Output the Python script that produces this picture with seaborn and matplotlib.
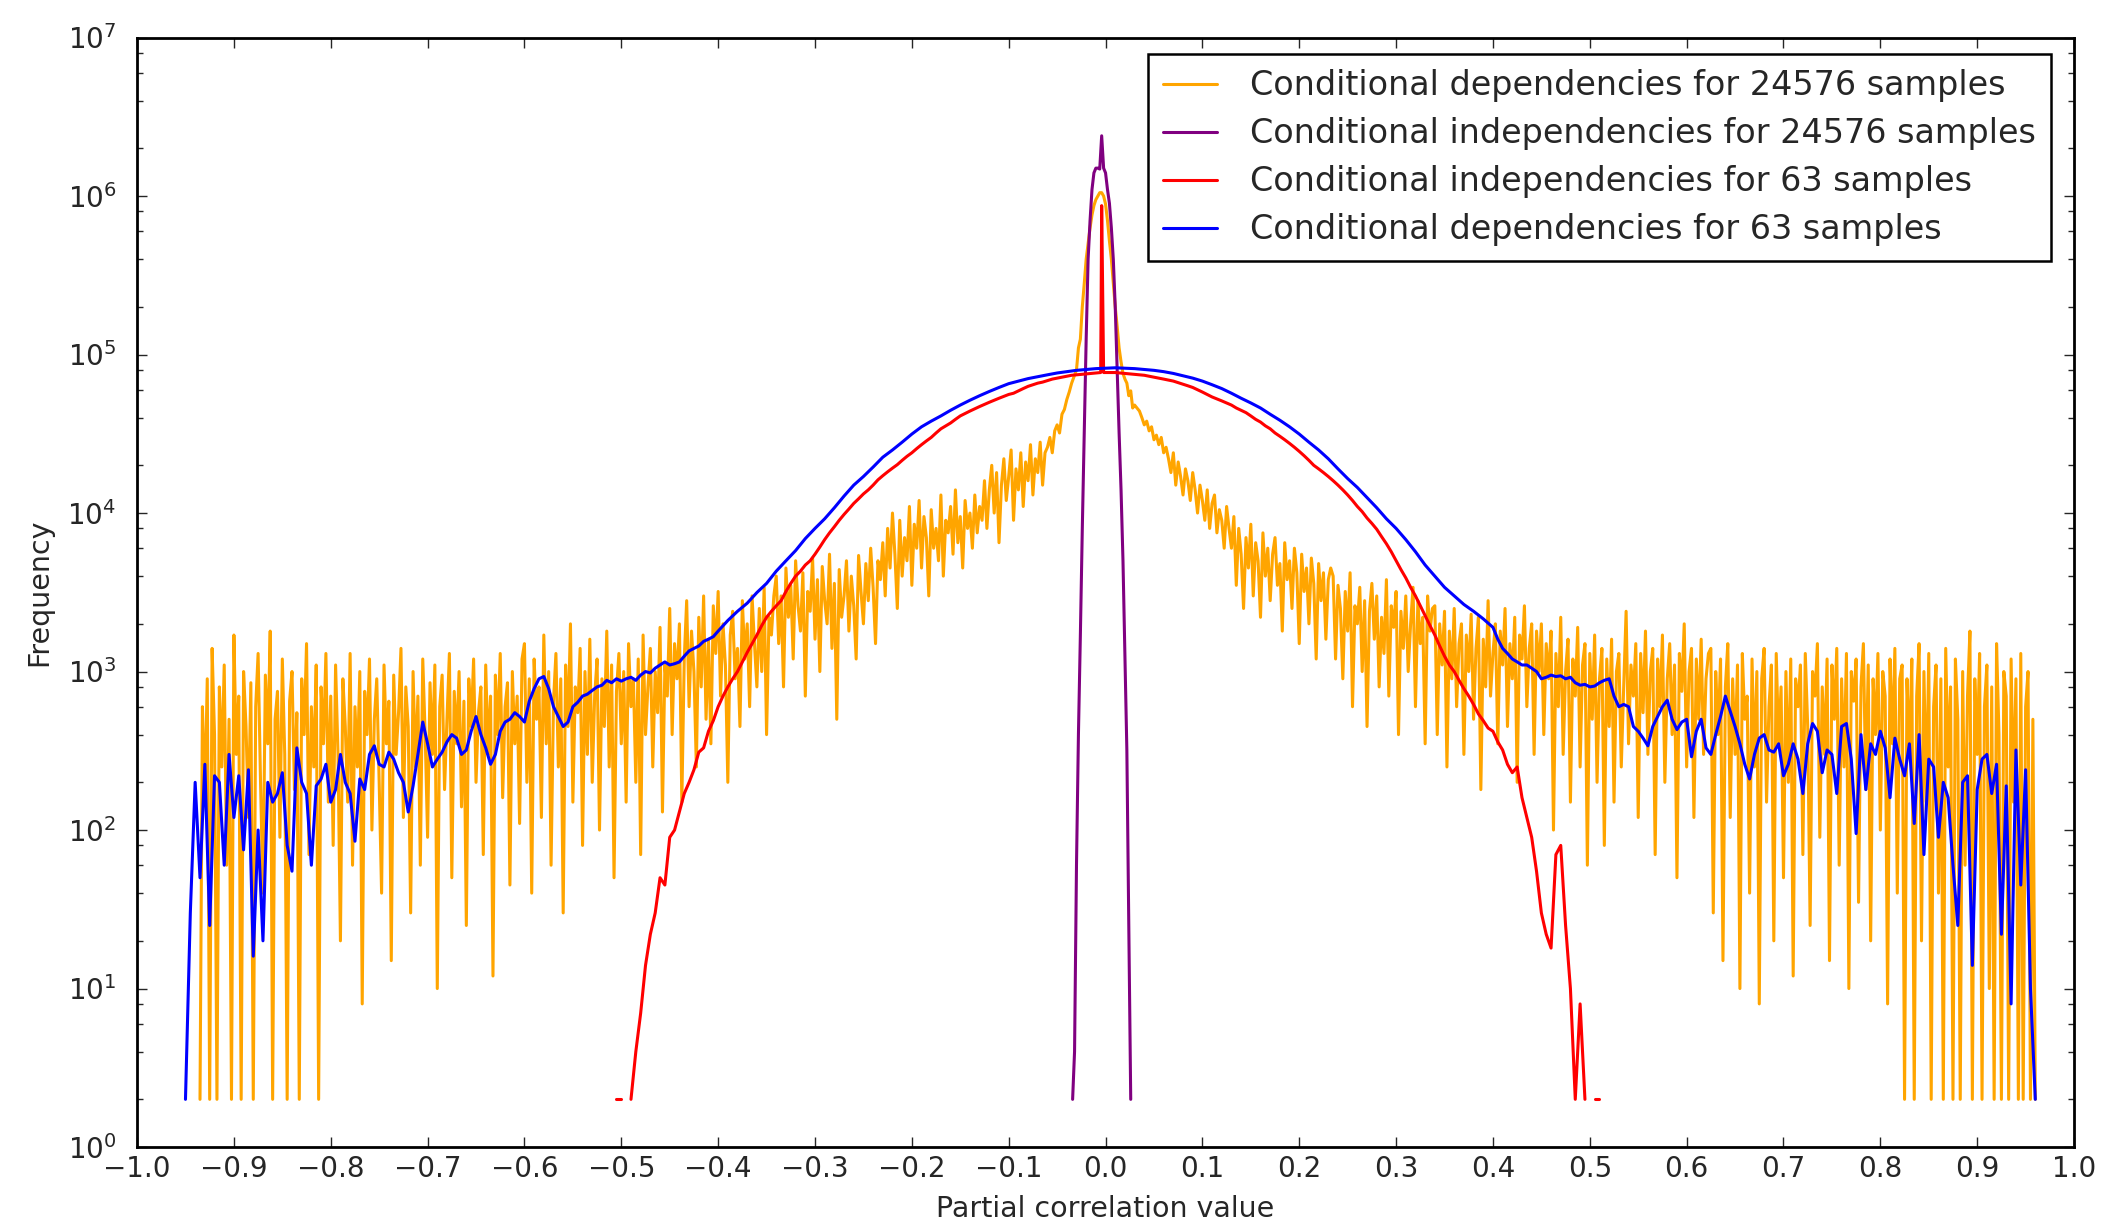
import numpy as np
import pandas as pd
import matplotlib
matplotlib.use("Agg")
import matplotlib.pyplot as plt
import seaborn as sns
from matplotlib.lines import Line2D
from matplotlib.ticker import LogLocator, NullFormatter

nan = np.nan

# Histogram counts. Each piece: first bin centre, bin width, counts.
# Conditional dependencies, 24576 samples (orange)
orange_left_start, orange_left_step = -0.935, 0.0025
orange_left = [
    # -0.935 .. -0.8025
    2, 600, 150, 900, 2, 1400, 400, 2, 800, 250,
    1100, 60, 500, 2, 1700, 300, 700, 2, 1000, 450,
    120, 850, 2, 600, 1300, 200, 40, 950, 350, 1800,
    2, 500, 750, 90, 1200, 300, 2, 650, 1000, 180,
    550, 2, 900, 400, 1500, 70, 600, 250, 1100, 2,
    800, 350, 1300, 150,
    # -0.800 .. -0.6025
    700, 80, 1100, 300, 20, 900, 450, 150, 1300, 60,
    600, 250, 1000, 8, 750, 400, 1200, 100, 500, 900,
    200, 40, 1100, 350, 650, 15, 950, 300, 550, 1400,
    120, 800, 450, 30, 1000, 250, 700, 60, 1200, 400,
    90, 850, 300, 1100, 10, 600, 950, 180, 500, 1300,
    50, 750, 350, 1000, 140, 650, 25, 900, 450, 1200,
    200, 550, 800, 70, 1100, 300, 700, 12, 950, 400,
    1300, 160, 600, 850, 45, 1000, 350, 700, 110, 1200,
    # -0.600 .. -0.4525
    1500, 200, 900, 40, 1200, 500, 800, 120, 1700, 350,
    1000, 60, 650, 1300, 250, 900, 30, 1100, 450, 2000,
    150, 800, 550, 1400, 80, 1000, 300, 1600, 200, 700,
    1200, 100, 900, 450, 1800, 250, 1100, 50, 750, 1300,
    350, 1000, 150, 1500, 600, 900, 200, 1200, 70, 1700,
    400, 800, 1400, 250, 1000, 550, 1900, 130, 1100, 700,
    # -0.450 .. -0.3425
    2500, 400, 1500, 900, 2000, 150, 1200, 2800, 600, 1800,
    1000, 250, 2200, 800, 3000, 500, 1600, 350, 2600, 1300,
    3200, 700, 2000, 1100, 200, 1700, 2400, 900, 1400, 450,
    2800, 1200, 2000, 600, 3000, 1500, 800, 2500, 1000, 3400,
    400, 2200, 1700, 3000,
    # -0.340 .. -0.2325
    4000, 1500, 3000, 800, 4500, 2200, 3500, 1200, 5000, 2600,
    1800, 4200, 700, 3200, 2400, 5200, 1600, 3800, 1000, 4600,
    2800, 2000, 5500, 1400, 3600, 500, 4400, 2200, 3000, 5000,
    1800, 4000, 2600, 1200, 5400, 3200, 2000, 4800, 2800, 6000,
    3400, 1500, 5000, 3800,
    # -0.230 .. -0.1275
    6500, 3000, 8000, 4500, 10000, 5500, 2500, 9000, 4000, 7000,
    5000, 11000, 3500, 8500, 6000, 12000, 4500, 9500, 7000, 3000,
    10500, 6000, 8000, 5000, 13000, 4000, 9000, 7500, 11000, 5500,
    14000, 6500, 9500, 4500, 12000, 8000, 10000, 6000, 13000, 7500,
    11000, 9000,
    # -0.125 .. -0.0625
    16000, 8000, 14000, 20000, 10000, 18000, 6500, 15000, 22000, 12000,
    17000, 25000, 9000, 19000, 14000, 24000, 11000, 21000, 16000, 27000,
    13000, 22000, 18000, 28000, 15000, 24000,
    # -0.060 .. -0.035
    26000, 30000, 24000, 33000, 36000, 32000, 42000, 45000, 52000, 58000, 66000,
]
orange_mid_start, orange_mid_step = -0.030, 0.002
orange_mid = [
    80000, 110000, 125000, 200000, 280000, 400000, 500000, 630000, 760000, 870000, 950000,
    1000000, 1050000, 1050000, 1000000, 890000, 700000, 520000, 400000, 280000, 200000,
    150000, 110000, 90000, 76000, 70000, 66000, 55000, 59000, 46000, 48000,
]
orange_right_start, orange_right_step = 0.035, 0.0025
orange_right = [
    # 0.035 .. 0.0625
    44000, 40000, 36000, 38000, 33000, 35000, 29000, 31000, 27000, 30000, 24000, 26000,
    # 0.065 .. 0.1275
    22000, 18000, 24000, 15000, 21000, 17000, 13000, 19000, 16000, 12000,
    18000, 14000, 10000, 15000, 12000, 9000, 14000, 8000, 11500, 13000,
    7500, 10500, 9000, 6000, 11000, 8000,
    # 0.130 .. 0.2325
    6000, 9500, 3500, 8000, 5500, 2500, 7000, 4500, 8500, 3000,
    6500, 5000, 2200, 7500, 4000, 6000, 2800, 5500, 7000, 3500,
    4800, 1800, 6500, 3800, 5000, 2500, 6000, 4200, 1500, 5500,
    3200, 4500, 2000, 5200, 3600, 1200, 4800, 2800, 4200, 1600,
    3800, 4500,
    # 0.235 .. 0.3375
    4000, 1200, 3500, 2500, 900, 3200, 1800, 4200, 600, 2600,
    2000, 3400, 1000, 2800, 450, 2400, 3600, 1600, 3000, 800,
    2200, 1300, 3800, 700, 2600, 1900, 3200, 400, 2400, 1400,
    3000, 1000, 2000, 3400, 600, 2800, 1500, 2200, 350, 3000,
    1800, 2500,
    # 0.340 .. 0.4475
    2600, 400, 2000, 1100, 2400, 250, 1800, 900, 2500, 600,
    1500, 2000, 300, 1700, 1000, 2300, 500, 1400, 2200, 180,
    1600, 800, 2800, 700, 1300, 2000, 350, 1800, 1100, 2500,
    450, 1500, 900, 2200, 200, 1700, 1200, 2600, 600, 1400,
    2000, 300, 1800, 1000,
    # 0.450 .. 0.6225
    2000, 400, 1500, 900, 1800, 100, 1300, 600, 2200, 300,
    1000, 1600, 150, 1200, 700, 1900, 250, 1100, 1500, 60,
    1300, 500, 1700, 200, 900, 1400, 80, 1200, 450, 1600,
    150, 1000, 1300, 250, 800, 2400, 350, 1100, 700, 1500,
    120, 1300, 550, 1800, 300, 1000, 1400, 70, 1200, 600,
    1700, 200, 900, 1500, 400, 1100, 50, 1300, 750, 2000,
    250, 1000, 1400, 120, 1200, 500, 1600, 300, 900, 1300,
    # 0.625 .. 0.8225
    1400, 30, 1000, 400, 1200, 15, 800, 1500, 120, 900,
    300, 1100, 10, 1300, 500, 700, 40, 1200, 250, 1000,
    8, 900, 1400, 150, 600, 1100, 20, 1300, 350, 800,
    50, 1000, 200, 1200, 12, 900, 600, 1100, 70, 1300,
    450, 25, 1000, 700, 1500, 90, 800, 300, 1200, 15,
    1100, 500, 1400, 60, 900, 250, 1300, 10, 1000, 650,
    1200, 35, 800, 1500, 180, 1100, 20, 900, 400, 1300,
    100, 1000, 700, 8, 1200, 350, 1400, 40, 900, 1100,
    # 0.825 .. 0.960
    2, 900, 300, 1200, 2, 700, 1500, 20, 1000, 150,
    1300, 2, 600, 1100, 40, 900, 2, 1400, 250, 800,
    2, 1200, 500, 2, 1000, 60, 700, 1800, 2, 900,
    300, 1300, 2, 600, 1100, 10, 800, 2, 1500, 400,
    2, 1000, 700, 2, 1200, 150, 900, 2, 1300, 2,
    600, 1000, 2, 500, 2,
]

# Conditional independencies, 24576 samples (purple)
purple_start, purple_step = -0.034, 0.002
purple = [
    2, 4, 60, 400, 1700, 8000, 32000, 126000, 400000, 700000, 1100000, 1400000, 1500000,
    1500000, 1480000, 2400000, 1500000, 1400000, 1100000, 900000, 630000, 400000, 200000,
    80000, 32000, 14000, 5000, 1260, 320, 25, 2,
]

# Conditional independencies, 63 samples (red); nan = empty bin
red_left_start, red_left_step = -0.515, 0.005
red_left = [
    2, nan, 2, 2, nan, 2, 4, 7, 14, 22,
    30, 50, 45, 90, 100, 130, 170, 200, 240, 310,
    330, 420, 490, 600, 700, 800, 900, 1000, 1150, 1320,
    1500, 1700, 1950, 2200, 2400, 2600, 2800, 3200, 3600, 4000,
    4300, 4700, 5000, 5500, 6100, 6800, 7500, 8200, 9000, 9800,
    10600, 11500, 12300, 13200, 14000, 15000, 16200, 17200, 18200, 19200,
    20200, 21500, 22800, 24000, 25500, 27000, 28500, 30000, 32000, 34000,
    35500, 37000, 39000, 41000, 42500, 44000, 45500, 47000, 48500, 50000,
    51500, 53000, 54500, 56000, 57000, 59000, 61000, 63000, 64500, 66000,
    67000, 68500, 70000, 71000, 72000, 73000, 74000, 74500, 75000, 75500,
    76000, 76500, 77000,
]
red_mid_start, red_mid_step = -0.004, 0.002
red_mid = [870000, 77000, 77000, 77000, 77000]
red_right_start, red_right_step = 0.005, 0.005
red_right = [
    77000, 77000, 76500, 76000, 75500, 75000, 74500, 74000, 73000, 72000,
    71000, 70000, 69000, 68000, 66500, 65000, 63500, 62000, 60000, 58000,
    56000, 54000, 52500, 51000, 49500, 48000, 46000, 44500, 43000, 41000,
    39000, 37500, 35500, 34000, 32000, 30500, 29000, 27500, 26000, 24500,
    23000, 21500, 20000, 19000, 18000, 17000, 16000, 15000, 14000, 13000,
    12000, 11000, 10200, 9300, 8600, 7900, 7100, 6400, 5700, 5000,
    4400, 3900, 3400, 3000, 2600, 2250, 1950, 1700, 1450, 1250,
    1100, 1000, 880, 780, 700, 620, 540, 490, 440, 420,
    360, 320, 260, 230, 250, 160, 120, 90, 55, 30,
    22, 18, 70, 80, 25, 10, 2, 8, 2, nan,
    2, 2,
]

# Conditional dependencies, 63 samples (blue)
blue_left_start, blue_left_step = -0.950, 0.005
blue_left = [
    2, 30, 200, 50, 260, 25, 220, 200, 60, 300,
    120, 220, 75, 240, 16, 100, 20, 200, 150, 170,
    230, 80, 55, 330, 200, 170, 60, 190, 210, 260,
    150, 180, 300, 200, 170, 85, 210, 180, 300, 340,
    260, 250, 310, 280, 230, 200, 130, 190, 300, 480,
    350, 250, 280, 310, 360, 400, 380, 300, 320, 420,
    520, 400, 330, 260, 300, 420, 480, 500, 550, 520,
    480, 650, 780, 900, 930, 780, 600, 520, 450, 480,
    600, 640, 700, 720, 760, 800, 820, 880, 850, 900,
    870, 900, 920, 880, 950, 1000, 980, 1050, 1100, 1150,
    1100, 1120, 1150, 1250, 1350, 1400, 1450, 1550, 1600, 1660,
    1800,
]
blue_mid_start, blue_mid_step = -0.39, 0.01
blue_mid = [
    2100, 2400, 2700, 3150, 3600, 4300, 5000, 5800, 6900, 8000,
    9200, 10800, 12800, 15000, 17000, 19500, 22500, 25000, 28000, 31500,
    35000, 38000, 41000, 44500, 48000, 51500, 55000, 58500, 62000, 65500,
    68000, 70500, 72500, 74500, 76500, 78000, 79500, 80500, 81500, 82000,
    82500, 82000, 81500, 80500, 79500, 78000, 76000, 73500, 71000, 68000,
    64500, 61000, 57000, 53000, 49500, 46000, 42000, 38500, 35000, 31500,
    28000, 25000, 22000, 19000, 16500, 14500, 12500, 10800, 9200, 8000,
    6800, 5700, 4700, 4000, 3400, 3000, 2650, 2400, 2150,
]
blue_right_start, blue_right_step = 0.400, 0.005
blue_right = [
    1900, 1600, 1400, 1300, 1200, 1150, 1100, 1100, 1050, 1000,
    900, 920, 950, 930, 940, 900, 920, 850, 820, 830,
    800, 810, 850, 880, 900, 700, 600, 620, 600, 450,
    420, 380, 340, 450, 520, 600, 660, 500, 430, 480,
    500, 290, 420, 500, 330, 300, 400, 520, 700, 560,
    450, 350, 260, 210, 300, 380, 400, 320, 310, 350,
    220, 260, 350, 280, 170, 350, 470, 420, 230, 320,
    300, 170, 450, 470, 280, 95, 400, 180, 350, 300,
    420, 330, 160, 380, 280, 220, 350, 110, 400, 70,
    280, 250, 90, 200, 160, 60, 25, 200, 220, 14,
    180, 280, 300, 170, 260, 22, 190, 8, 320, 45,
    240, 10, 2,
]

labels = [
    "Conditional dependencies for 24576 samples",
    "Conditional independencies for 24576 samples",
    "Conditional independencies for 63 samples",
    "Conditional dependencies for 63 samples",
]
colors = ["orange", "purple", "red", "blue"]
xtick_values = [-1.0, -0.9, -0.8, -0.7, -0.6, -0.5, -0.4, -0.3, -0.2, -0.1, 0.0,
                0.1, 0.2, 0.3, 0.4, 0.5, 0.6, 0.7, 0.8, 0.9, 1.0]


def piece(start, step, counts):
    counts = np.asarray(counts, dtype=float)
    return pd.DataFrame({"x": start + step * np.arange(len(counts)), "count": counts})


series = [
    [piece(orange_left_start, orange_left_step, orange_left),
     piece(orange_mid_start, orange_mid_step, orange_mid),
     piece(orange_right_start, orange_right_step, orange_right)],
    [piece(purple_start, purple_step, purple)],
    [piece(red_left_start, red_left_step, red_left),
     piece(red_mid_start, red_mid_step, red_mid),
     piece(red_right_start, red_right_step, red_right)],
    [piece(blue_left_start, blue_left_step, blue_left),
     piece(blue_mid_start, blue_mid_step, blue_mid),
     piece(blue_right_start, blue_right_step, blue_right)],
]

sns.set_style("ticks")
plt.rcParams["font.family"] = ["DejaVu Sans"]
plt.rcParams["mathtext.fontset"] = "dejavusans"
plt.rcParams["xtick.direction"] = "in"
plt.rcParams["ytick.direction"] = "in"
plt.rcParams["xtick.top"] = True
plt.rcParams["ytick.right"] = True

fig = plt.figure(figsize=(21.02, 12.31), dpi=100)
ax = fig.add_axes([0.0652, 0.0682, 0.9215, 0.9013])
ax.set_yscale("log")

for pieces, color in zip(series, colors):
    df = pd.concat(pieces, ignore_index=True)
    # empty bins break the line
    df["seg"] = df["count"].isna().cumsum()
    df = df.dropna()
    sns.lineplot(data=df, x="x", y="count", units="seg", estimator=None, sort=False,
                 color=color, lw=2.2, ax=ax, legend=False)

ax.set_xlim(-1.0, 1.0)
ax.set_ylim(1, 1e7)
ax.set_xticks(xtick_values)
ax.set_xticklabels([f"{v:.1f}".replace("-", "\u2212") for v in xtick_values])
ax.yaxis.set_major_locator(LogLocator(base=10, numticks=10))
ax.yaxis.set_minor_locator(LogLocator(base=10, subs=[2, 4, 6, 8], numticks=10))
ax.yaxis.set_minor_formatter(NullFormatter())

ax.tick_params(axis="both", which="major", labelsize=20, length=7, width=1)
ax.tick_params(axis="y", which="minor", length=4, width=1)
ax.tick_params(axis="x", pad=5.5)
ax.tick_params(axis="y", pad=15)
for s in ax.spines.values():
    s.set_linewidth(2)
    s.set_color("black")

ax.set_xlabel("Partial correlation value", fontsize=20.5, labelpad=9)
ax.set_ylabel("Frequency", fontsize=20.5, labelpad=10)

handles = [Line2D([], [], color=c, lw=2.2) for c in colors]
leg = ax.legend(handles, labels, loc="upper right", bbox_to_anchor=(0.988, 0.985),
                borderaxespad=0, fontsize=24, frameon=True, fancybox=False,
                framealpha=1, edgecolor="black", handlelength=1.6, handletextpad=1.0,
                labelspacing=0.45, borderpad=0.45)
leg.get_frame().set_linewidth(1.8)

fig.savefig("out.png", dpi=100, facecolor="white")
